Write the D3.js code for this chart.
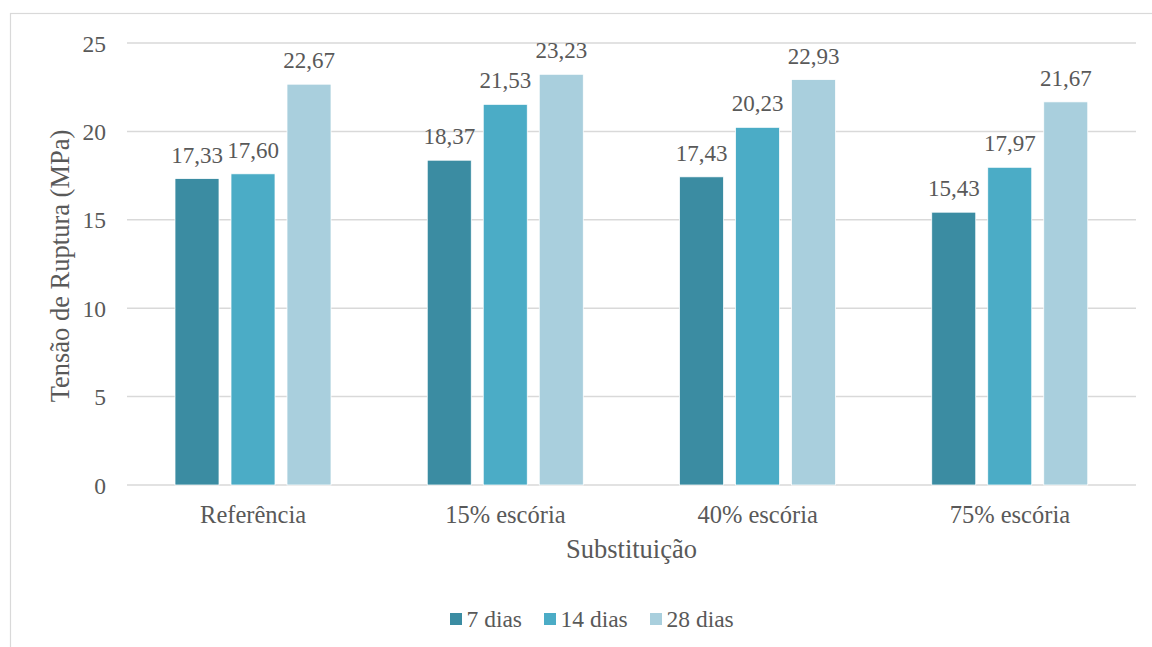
<!DOCTYPE html>
<html><head><meta charset="utf-8">
<script src="https://cdn.jsdelivr.net/npm/d3@7"></script>
<style>body{margin:0;background:#fff}svg{display:block}</style>
</head><body><svg id="c" width="1152" height="647"></svg>
<script>
const categories = ["Referência","15% escória","40% escória","75% escória"];
const series = ["7 dias","14 dias","28 dias"];
const values7 = [17.33,18.37,17.43,15.43];
const values14 = [17.60,21.53,20.23,17.97];
const values28 = [22.67,23.23,22.93,21.67];
const yTicks = [0,5,10,15,20,25];
const colors = ["#3B8CA2","#4BACC6","#A9CFDD"];
const allVals = [values7,values14,values28];
const FONT = '"Liberation Serif"';
const TXT = "#595959";

const svg = d3.select("#c");
svg.append("rect").attr("x",10.5).attr("y",13.5).attr("width",1160).attr("height",660)
  .attr("fill","#fff").attr("stroke","#d9d9d9").attr("stroke-width",1.2);

const L=127,R=1136,T=43,B=485;
const x0 = d3.scaleBand().domain(categories).range([L,R]).padding(0);
const x1 = d3.scaleBand().domain(series).range([48,204]).paddingInner(12/56).paddingOuter(0);
const y = d3.scaleLinear().domain([0,25]).range([B,T]);

const grid = svg.append("g");
grid.selectAll("line").data(yTicks).join("line")
  .attr("x1",L).attr("x2",R).attr("y1",d=>y(d)).attr("y2",d=>y(d))
  .attr("stroke","#d9d9d9").attr("stroke-width",1.5);

const yAxis = d3.axisLeft(y).tickValues(yTicks).tickSize(0).tickPadding(0);
const ya = svg.append("g").attr("transform",`translate(${L-21},0)`).call(yAxis);
ya.select(".domain").remove();
ya.selectAll("text").style("font-size","23.5px").style("font-family",FONT).style("fill",TXT).attr("dy","0.34em");

const g = svg.append("g");
categories.forEach((c,i)=>{
  series.forEach((s,j)=>{
    const v = allVals[j][i];
    const bx = x0(c)+x1(s);
    g.append("rect").attr("x",bx).attr("y",y(v)).attr("width",x1.bandwidth()).attr("height",y(0)-y(v))
      .attr("fill",colors[j]).attr("stroke","#fff").attr("stroke-width",0.75);
    g.append("text").attr("x",bx+x1.bandwidth()/2).attr("y",y(v)-16)
      .attr("text-anchor","middle").style("font-size","23px").style("font-family",FONT).style("fill",TXT)
      .text(v.toFixed(2).replace(".",","));
  });
});

const xAxis = d3.axisBottom(x0).tickSize(0).tickPadding(0);
const xa = svg.append("g").attr("transform",`translate(0,${B})`).call(xAxis);
xa.select(".domain").remove();
xa.selectAll("text").style("font-size","24.5px").style("font-family",FONT).style("fill",TXT).attr("y",38).attr("dy",0);

svg.append("text").attr("x",(L+R)/2).attr("y",558).attr("text-anchor","middle")
  .style("font-size","26.5px").style("font-family",FONT).style("fill",TXT).text("Substituição");
svg.append("text").attr("transform",`translate(69,${(T+B)/2+2}) rotate(-90)`).attr("text-anchor","middle")
  .style("font-size","26.5px").style("font-family",FONT).style("fill",TXT).text("Tensão de Ruptura (MPa)");

const legX = [450,544,650];
const lg = svg.append("g");
series.forEach((s,j)=>{
  lg.append("rect").attr("x",legX[j]).attr("y",613).attr("width",12).attr("height",12).attr("fill",colors[j]);
  lg.append("text").attr("x",legX[j]+16.5).attr("y",627).style("font-size","23.5px").style("font-family",FONT).style("fill",TXT).text(s);
});
</script></body></html>
